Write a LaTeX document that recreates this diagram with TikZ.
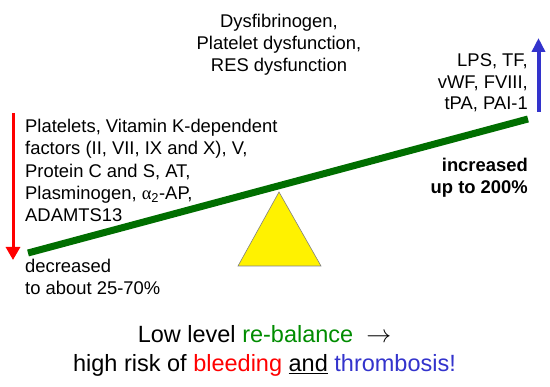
\documentclass[tikz,border=0pt]{standalone}
\usepackage{fontspec}
\setmainfont{Liberation Sans}
\newfontfamily\greekserif{Liberation Serif}
\usetikzlibrary{arrows.meta}
\definecolor{barGreen}{RGB}{0,110,0}
\definecolor{txtGreen}{RGB}{0,140,0}
\definecolor{arrBlue}{RGB}{51,51,204}
\definecolor{txtRed}{RGB}{255,0,0}
\begin{document}
\begin{tikzpicture}[x=1pt,y=-1pt,
  lbl/.style={inner sep=0pt, font=\fontsize{18.4}{22.4}\selectfont},
  big/.style={inner sep=0pt, font=\fontsize{23.5}{29}\selectfont}]
\useasboundingbox (0,0) rectangle (550,387);
% fulcrum
\draw[fill=yellow, draw=gray, line width=0.6pt] (238,266) -- (279,192) -- (321,266) -- cycle;
% beam
\coordinate (bl) at (28,253);
\coordinate (br) at (528,119);
\draw[line width=7pt, barGreen] (bl) -- (br);
% arrows
\coordinate (ra1) at (13,113);
\coordinate (ra2) at (13,260);
\draw[line width=3pt, txtRed, -{Triangle[width=14pt,length=13pt]}] (ra1) -- (ra2);
\coordinate (ba1) at (538.5,112);
\coordinate (ba2) at (538.5,38);
\draw[line width=4pt, arrBlue, -{Triangle[width=13pt,length=14pt]}] (ba1) -- (ba2);
% texts (base anchor = baseline of last line)
\node[lbl, align=center, anchor=base] (top) at (279,72)
  {Dysfibrinogen,\\Platelet dysfunction,\\RES dysfunction};
\node[lbl, align=left, anchor=base west] (left) at (25,222)
  {Platelets, Vitamin K-dependent\\factors (II, VII, IX and X), V,\\Protein C and S, AT,\\Plasminogen, {\greekserif α}\textsubscript{2}-AP,\\ADAMTS13};
\node[lbl, align=left, anchor=base west] (dec) at (25,295)
  {decreased\\to about 25-70\%};
\node[lbl, align=right, anchor=base east, font=\fontsize{18.4}{21.5}\selectfont] (right) at (528,110)
  {LPS, TF,\\vWF, FVIII,\\tPA, PAI-1};
\node[lbl, align=right, anchor=base east, font=\fontsize{18.4}{22.4}\selectfont\bfseries] (inc) at (528,194)
  {increased\\up to 200\%};
\node[big, align=center, anchor=base] (bottom) at (264.5,372)
  {Low level \textcolor{txtGreen}{re-balance}~~$\rightarrow$\\high risk of \textcolor{txtRed}{bleeding} \underline{and} \textcolor{arrBlue}{thrombosis!}};
\end{tikzpicture}
\end{document}
